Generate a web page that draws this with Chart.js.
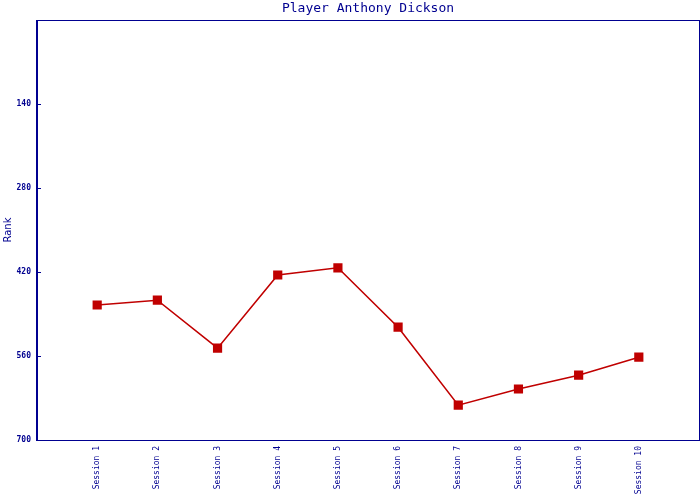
<!DOCTYPE html>
<html>
<head>
<meta charset="utf-8">
<script src="https://cdn.jsdelivr.net/npm/chart.js@4.4.0/dist/chart.umd.min.js"></script>
<style>
  html, body { margin: 0; padding: 0; background: #fff; }
  canvas { display: block; }
</style>
</head>
<body>
<canvas id="rankChart" width="700" height="500"></canvas>
<script>
// data
var sessions = ['Session 1', 'Session 2', 'Session 3', 'Session 4', 'Session 5',
                'Session 6', 'Session 7', 'Session 8', 'Session 9', 'Session 10'];
var ranks = [475, 467, 547, 425, 413, 512, 642, 615, 592, 562];
var rankTicks = [0, 140, 280, 420, 560, 700];

var navy = '#000090';
var red = '#c00000';

// empty slot on each side so points sit one step in from the frame
var labels = [''].concat(sessions).concat(['']);
var values = [null].concat(ranks).concat([null]);

// closes the frame on top and right
var frame = {
    id: 'frame',
    afterDraw: function(chart) {
        var a = chart.chartArea;
        var ctx = chart.ctx;
        ctx.save();
        ctx.strokeStyle = navy;
        ctx.lineWidth = 1;
        ctx.strokeRect(Math.floor(a.left) - 0.5, Math.floor(a.top) + 0.5,
                       Math.round(a.right - a.left) + 1, Math.round(a.bottom - a.top));
        ctx.restore();
    }
};

var config = {
    type: 'line',
    data: {
        labels: labels,
        datasets: [{
            label: 'Rank',
            data: values,
            borderColor: red,
            backgroundColor: red,
            borderWidth: 1.6,
            pointStyle: 'rect',
            pointRadius: 6.5,
            pointBorderWidth: 0,
            pointBackgroundColor: red,
            tension: 0
        }]
    },
    options: {
        responsive: false,
        animation: false,
        layout: { autoPadding: false, padding: { top: 0, right: 1, bottom: 0, left: 0 } },
        plugins: {
            legend: { display: false },
            tooltip: { enabled: false },
            title: {
                display: true,
                text: 'Player Anthony Dickson',
                color: navy,
                fullSize: false,
                font: { family: 'DejaVu Sans Mono', size: 13, weight: 'normal', lineHeight: 1 },
                padding: { top: 2, bottom: 5 }
            }
        },
        scales: {
            x: {
                type: 'category',
                offset: false,
                grid: { display: false, drawTicks: false },
                border: { display: true, color: navy, width: 1 },
                ticks: {
                    autoSkip: false,
                    minRotation: 90,
                    maxRotation: 90,
                    padding: 6,
                    color: navy,
                    font: { family: 'DejaVu Sans Mono', size: 8 }
                },
                afterFit: function(scale) {
                    scale.height = 60;
                    scale.paddingLeft = 0;
                    scale.paddingRight = 0;
                }
            },
            y: {
                reverse: true,
                min: 0,
                max: 700,
                afterBuildTicks: function(scale) {
                    scale.ticks = rankTicks.map(function(v) { return { value: v }; });
                },
                grid: {
                    drawOnChartArea: false,
                    drawTicks: true,
                    tickLength: -4,
                    color: navy
                },
                border: { display: true, color: navy, width: 1 },
                ticks: {
                    padding: 10,
                    color: navy,
                    font: { family: 'DejaVu Sans Mono', size: 8, weight: 'bold' },
                    callback: function(v) { return v === 0 ? '' : v; }
                },
                title: {
                    display: true,
                    text: 'Rank',
                    color: navy,
                    font: { family: 'DejaVu Sans', size: 10 },
                    padding: { top: 2, bottom: 0 }
                },
                afterFit: function(scale) {
                    scale.width = 37;
                    scale.paddingTop = 0;
                    scale.paddingBottom = 0;
                }
            }
        }
    },
    plugins: [frame]
};

var myChart = new Chart(document.getElementById('rankChart'), config);
</script>
</body>
</html>
